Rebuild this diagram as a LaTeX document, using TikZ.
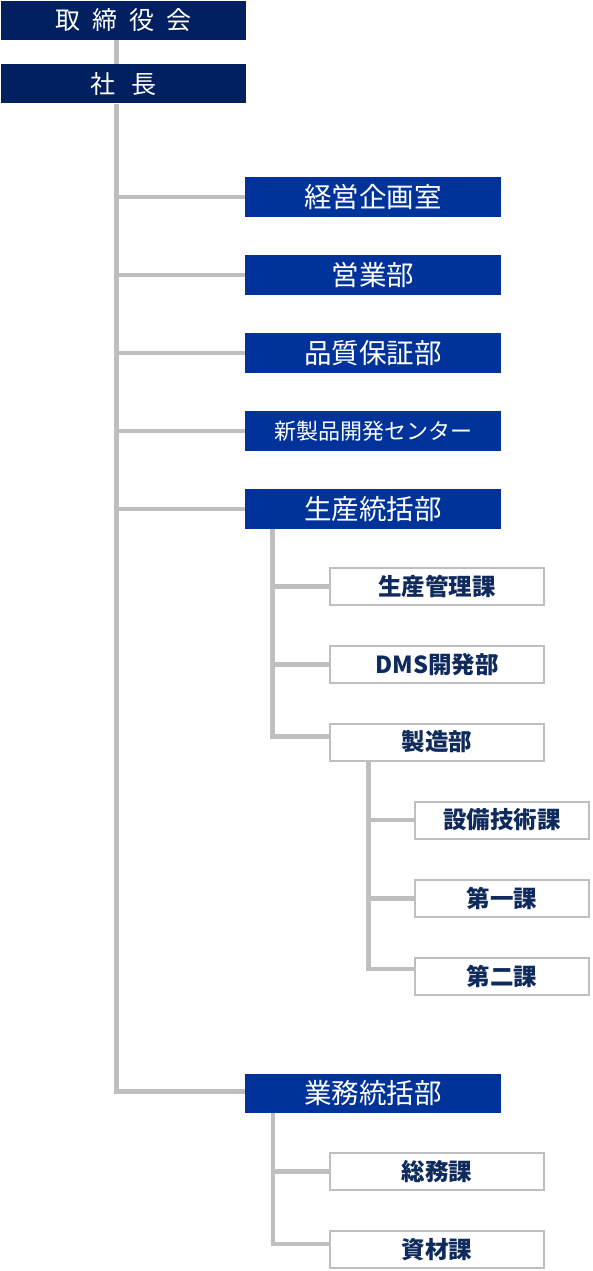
\documentclass[tikz,border=0pt]{standalone}
\usepackage{fontspec}
\setmainfont{Noto Sans CJK JP}
\usetikzlibrary{calc}
\definecolor{navy}{HTML}{002060}
\definecolor{midblue}{HTML}{003399}
\definecolor{linegray}{HTML}{BFBFBF}
\definecolor{txtnavy}{HTML}{0F2A5C}
\begin{document}
\begin{tikzpicture}[x=1pt,y=-1pt,
  topbox/.style={fill=navy, text=white, minimum width=245pt, minimum height=39pt, inner sep=0pt, font=\fontsize{25}{25}\selectfont},
  bluebox/.style={fill=midblue, text=white, minimum width=256pt, minimum height=39.5pt, inner sep=0pt, font=\fontsize{27.5}{27.5}\selectfont},
  whitebox/.style={draw=linegray, line width=2pt, fill=white, text=txtnavy, minimum width=214pt, minimum height=37pt, inner sep=0pt, font=\fontsize{23.5}{23.5}\selectfont\bfseries},
  conn/.style={draw=linegray, line width=4.5pt}]
\useasboundingbox (0,0) rectangle (592,1271);

% top
\node[topbox] (board) at (123.5,20.5) {取\hspace{12pt}締\hspace{12pt}役\hspace{12pt}会};
\node[topbox] (pres) at (123.5,84) {社\hspace{16pt}長};
\coordinate (t) at (116.5,0);

% departments
\node[bluebox] (keiei) at (373,197) {経営企画室};
\node[bluebox] (eigyo) at (373,275) {営業部};
\node[bluebox] (hinshitsu) at (373,353) {品質保証部};
\node[bluebox, font=\fontsize{22}{22}\selectfont] (shinseihin) at (373,431) {新製品開発センター};
\node[bluebox] (seisan) at (373,509) {生産統括部};
\node[bluebox] (gyomu) at (373,1093.5) {業務統括部};

% under seisan
\coordinate (s1) at (272.5,0);
\node[whitebox] (kanri) at (437,586.5) {生産管理課};
\node[whitebox] (dms) at (437,664.5) {DMS開発部};
\node[whitebox] (seizo) at (437,742) {製造部};

% under seizo
\coordinate (s2) at (368.5,0);
\node[whitebox, minimum width=174pt] (setsubi) at (502,820) {設備技術課};
\node[whitebox, minimum width=174pt] (dai1) at (502,898.5) {第一課};
\node[whitebox, minimum width=174pt] (dai2) at (502,976.5) {第二課};

% under gyomu
\coordinate (s3) at (273,0);
\node[whitebox] (somu) at (437,1171.5) {総務課};
\node[whitebox] (shizai) at (437,1249.5) {資材課};

% connectors
\draw[conn] (board.south -| t) -- (pres.north -| t);
\draw[conn] (pres.south -| t) |- ($(gyomu.west)+(0,-2)$);
\foreach \n in {keiei,eigyo,hinshitsu,shinseihin,seisan}
  \draw[conn] (t |- \n.west) -- (\n.west);

\draw[conn] (seisan.south -| s1) |- ($(seizo.west)+(0,-5.5)$);
\foreach \n in {kanri,dms}
  \draw[conn] (s1 |- \n.west) -- (\n.west);

\draw[conn] (seizo.south -| s2) |- ($(dai2.west)+(0,-7.5)$);
\foreach \n in {setsubi,dai1}
  \draw[conn] (s2 |- \n.west) -- (\n.west);

\draw[conn] (gyomu.south -| s3) |- ($(shizai.west)+(0,-5.5)$);
\draw[conn] (s3 |- somu.west) -- (somu.west);
\end{tikzpicture}
\end{document}
